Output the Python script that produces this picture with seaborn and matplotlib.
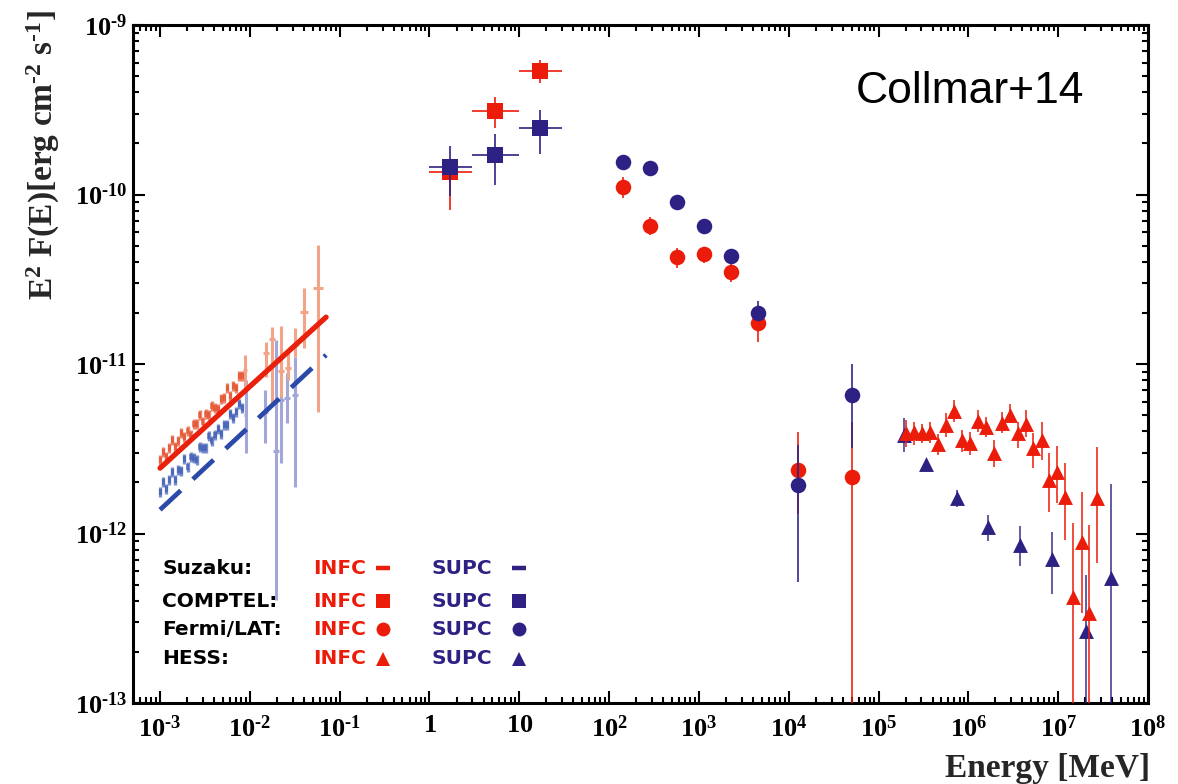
import numpy as np
import pandas as pd
import matplotlib
matplotlib.use("Agg")
import matplotlib.pyplot as plt
from matplotlib.ticker import FixedLocator, FixedFormatter, LogLocator, NullFormatter
import seaborn as sns

# ---------------- colours ----------------
RED = "#EC1C0A"
NAVY = "#2D2183"
RED_LIGHT = "#F2A488"
BLUE_LIGHT = "#A3A6D9"
RED_XIS = "#E2461F"
BLUE_XIS = "#3352B0"

# ---------------- Suzaku (XIS spectra, HXD points, power-law models) ----------------
xis_E = [1.000e-3, 1.081e-3, 1.169e-3, 1.265e-3, 1.368e-3, 1.479e-3, 1.600e-3,
         1.730e-3, 1.871e-3, 2.023e-3, 2.188e-3, 2.366e-3, 2.559e-3, 2.767e-3,
         2.992e-3, 3.236e-3, 3.499e-3, 3.784e-3, 4.093e-3, 4.426e-3, 4.786e-3,
         5.176e-3, 5.598e-3, 6.053e-3, 6.546e-3, 7.079e-3, 7.656e-3, 8.279e-3]
xis_infc = [2.73e-12, 3.03e-12, 2.81e-12, 3.20e-12, 3.56e-12, 3.22e-12, 3.50e-12,
            3.90e-12, 3.69e-12, 4.01e-12, 3.80e-12, 4.43e-12, 4.40e-12, 5.00e-12,
            4.52e-12, 5.04e-12, 4.99e-12, 5.69e-12, 5.51e-12, 5.46e-12, 6.22e-12,
            6.31e-12, 7.19e-12, 6.50e-12, 7.40e-12, 7.18e-12, 8.55e-12, 8.47e-12]
xis_supc = [1.76e-12, 2.00e-12, 1.82e-12, 2.07e-12, 2.30e-12, 2.08e-12, 2.37e-12,
            2.35e-12, 2.74e-12, 2.47e-12, 2.82e-12, 2.79e-12, 2.71e-12, 3.23e-12,
            3.20e-12, 3.18e-12, 3.78e-12, 3.51e-12, 3.81e-12, 4.14e-12, 3.84e-12,
            4.37e-12, 4.34e-12, 5.05e-12, 4.78e-12, 5.20e-12, 5.78e-12, 5.47e-12]

hxd_infc_E = [0.0088, 0.0151, 0.0177, 0.0222, 0.0266, 0.0318, 0.0402, 0.0574]
hxd_infc_Elo = [0.0084, 0.0141, 0.0165, 0.0205, 0.0245, 0.0293, 0.0363, 0.0500]
hxd_infc_Ehi = [0.0092, 0.0162, 0.0190, 0.0240, 0.0289, 0.0346, 0.0445, 0.0660]
hxd_infc = [9.22e-12, 1.16e-11, 1.40e-11, 9.10e-12, 9.46e-12, 1.30e-11, 2.03e-11, 2.81e-11]
hxd_infc_lo = [7.31e-12, 8.38e-12, 5.89e-12, 6.38e-12, 8.05e-12, 1.10e-11, 1.24e-11, 5.21e-12]
hxd_infc_hi = [1.13e-11, 1.35e-11, 1.65e-11, 1.67e-11, 1.21e-11, 1.63e-11, 2.81e-11, 5.04e-11]

hxd_supc_E = [0.0090, 0.0148, 0.0196, 0.0222, 0.0259, 0.0318]
hxd_supc_Elo = [0.0086, 0.0138, 0.0182, 0.0205, 0.0239, 0.0293]
hxd_supc_Ehi = [0.0094, 0.0158, 0.0211, 0.0240, 0.0281, 0.0346]
hxd_supc = [5.00e-12, 5.21e-12, 3.07e-12, 6.14e-12, 6.30e-12, 6.56e-12]
hxd_supc_lo = [2.99e-12, 3.42e-12, 4.06e-13, 2.61e-12, 4.49e-12, 1.88e-12]
hxd_supc_hi = [8.05e-12, 7.03e-12, 1.39e-11, 1.33e-11, 8.85e-12, 1.10e-11]

model_E = [1.0e-3, 7.06e-2]
model_infc = [2.43e-12, 1.89e-11]
model_supc = [1.38e-12, 1.13e-11]

# ---------------- COMPTEL ----------------
comptel_E = [1.7, 5.3, 16.8]
comptel_Elo = [1.0, 3.0, 10.0]
comptel_Ehi = [3.0, 10.0, 30.0]
comptel_infc = [1.36e-10, 3.11e-10, 5.36e-10]
comptel_infc_lo = [8.1e-11, 2.47e-10, 4.55e-10]
comptel_infc_hi = [1.60e-10, 3.76e-10, 6.22e-10]
comptel_supc = [1.45e-10, 1.71e-10, 2.47e-10]
comptel_supc_lo = [9.8e-11, 1.14e-10, 1.73e-10]
comptel_supc_hi = [1.93e-10, 2.28e-10, 3.16e-10]

# ---------------- Fermi/LAT ----------------
fermi_E = [143, 286, 571, 1143, 2280, 4560, 12700, 50800]
fermi_infc = [1.11e-10, 6.5e-11, 4.27e-11, 4.45e-11, 3.49e-11, 1.75e-11, 2.37e-12, 2.15e-12]
fermi_infc_lo = [9.53e-11, 5.77e-11, 3.68e-11, 3.95e-11, 3.05e-11, 1.35e-11, 1.3e-12, 1e-14]
fermi_infc_hi = [1.27e-10, 7.36e-11, 4.83e-11, 4.87e-11, 3.89e-11, 2.0e-11, 3.97e-12, 4.55e-12]
fermi_supc = [1.55e-10, 1.43e-10, 9.0e-11, 6.5e-11, 4.33e-11, 2.0e-11, 1.93e-12, 6.56e-12]
fermi_supc_lo = [1.45e-10, 1.34e-10, 8.5e-11, 6.1e-11, 4.0e-11, 1.8e-11, 5.18e-13, 3.19e-12]
fermi_supc_hi = [1.65e-10, 1.52e-10, 9.5e-11, 6.9e-11, 4.65e-11, 2.35e-11, 3.33e-12, 1.0e-11]

# ---------------- HESS ----------------
hess_infc_E = [2.03e5, 2.49e5, 3.06e5, 3.76e5, 4.61e5, 5.66e5, 6.95e5, 8.53e5, 1.05e6,
               1.29e6, 1.58e6, 1.94e6, 2.38e6, 2.92e6, 3.59e6, 4.41e6, 5.27e6, 6.64e6,
               7.94e6, 9.75e6, 1.20e7, 1.47e7, 1.85e7, 2.21e7, 2.72e7]
hess_infc = [3.92e-12, 3.95e-12, 3.92e-12, 3.97e-12, 3.37e-12, 4.37e-12, 5.28e-12, 3.56e-12,
             3.42e-12, 4.61e-12, 4.25e-12, 2.99e-12, 4.49e-12, 5.00e-12, 3.92e-12, 4.42e-12,
             3.19e-12, 3.56e-12, 2.07e-12, 2.31e-12, 1.64e-12, 4.22e-13, 8.91e-13, 3.40e-13,
             1.62e-12]
hess_infc_lo = [3.24e-12, 3.33e-12, 3.42e-12, 3.42e-12, 2.90e-12, 3.71e-12, 4.55e-12, 3.03e-12,
                2.90e-12, 3.97e-12, 3.71e-12, 2.47e-12, 3.92e-12, 4.49e-12, 3.19e-12, 3.71e-12,
                2.43e-12, 2.71e-12, 1.34e-12, 1.51e-12, 9.16e-13, 1e-14, 3.40e-13, 1e-14,
                6.70e-13]
hess_infc_hi = [4.67e-12, 4.55e-12, 4.43e-12, 4.55e-12, 3.86e-12, 5.14e-12, 6.14e-12, 4.08e-12,
                3.97e-12, 5.35e-12, 4.87e-12, 3.56e-12, 5.21e-12, 5.81e-12, 4.55e-12, 5.35e-12,
                3.92e-12, 4.55e-12, 2.99e-12, 3.28e-12, 2.61e-12, 1.15e-12, 1.76e-12, 1.12e-12,
                3.24e-12]
hess_supc_E = [1.93e5, 3.39e5, 7.50e5, 1.66e6, 3.78e6, 8.57e6, 2.05e7, 3.89e7]
hess_supc = [3.81e-12, 2.57e-12, 1.62e-12, 1.09e-12, 8.55e-13, 7.07e-13, 2.66e-13, 5.46e-13]
hess_supc_lo = [3.03e-12, 2.57e-12, 1.43e-12, 9.04e-13, 6.43e-13, 4.40e-13, 1e-14, 1e-14]
hess_supc_hi = [4.80e-12, 2.57e-12, 1.81e-12, 1.29e-12, 1.11e-12, 1.02e-12, 5.69e-13, 1.96e-12]

# ---------------- axes text ----------------
x_tick_values = [1e-3, 1e-2, 1e-1, 1, 10, 1e2, 1e3, 1e4, 1e5, 1e6, 1e7, 1e8]
x_tick_labels = [r"$10^{‐3}$", r"$10^{‐2}$", r"$10^{‐1}$", r"$1$", r"$10$", r"$10^{2}$",
                 r"$10^{3}$", r"$10^{4}$", r"$10^{5}$", r"$10^{6}$", r"$10^{7}$", r"$10^{8}$"]
y_tick_values = [1e-13, 1e-12, 1e-11, 1e-10, 1e-9]
y_tick_labels = [r"$10^{‐13}$", r"$10^{‐12}$", r"$10^{‐11}$", r"$10^{‐10}$", r"$10^{‐9}$"]
legend_rows = ["Suzaku:", "COMPTEL:", "Fermi/LAT:", "HESS:"]
legend_markers = ["_", "s", "o", "^"]
phase_labels = ["INFC", "SUPC"]

# ---------------- style ----------------
sns.set_style("ticks")
plt.rcParams.update({
    "font.family": ["Liberation Serif", "DejaVu Sans"],
    "mathtext.fontset": "custom",
    "mathtext.rm": "Liberation Serif:bold",
    "mathtext.it": "Liberation Serif:bold",
    "mathtext.bf": "Liberation Serif:bold",
    "mathtext.sf": "Liberation Serif:bold",
    "axes.linewidth": 2.2,
    "axes.edgecolor": "black",
})

fig = plt.figure(figsize=(11.78, 7.84), dpi=100)
ax = fig.add_axes([133 / 1178, 81 / 784, 1015 / 1178, 678 / 784])
ax.set_xscale("log")
ax.set_yscale("log")


def spread(vals, lo, hi):
    v = np.asarray(vals)
    return [v - np.asarray(lo), np.asarray(hi) - v]


def channel_widths(energies):
    """Half-widths of each spectral channel, reaching to the neighbouring channels."""
    e = np.asarray(energies)
    mids = np.sqrt(e[1:] * e[:-1])
    lo = np.concatenate([[e[0] * e[0] / mids[0]], mids])
    hi = np.concatenate([mids, [e[-1] * e[-1] / mids[-1]]])
    return [e - lo, hi - e]


# Suzaku HXD points (pale bars)
ax.errorbar(hxd_supc_E, hxd_supc, yerr=spread(hxd_supc, hxd_supc_lo, hxd_supc_hi),
            xerr=spread(hxd_supc_E, hxd_supc_Elo, hxd_supc_Ehi), fmt="none",
            ecolor=BLUE_LIGHT, elinewidth=2.2, zorder=1)
ax.errorbar(hxd_infc_E, hxd_infc, yerr=spread(hxd_infc, hxd_infc_lo, hxd_infc_hi),
            xerr=spread(hxd_infc_E, hxd_infc_Elo, hxd_infc_Ehi), fmt="none",
            ecolor=RED_LIGHT, elinewidth=2.2, zorder=1)

# Suzaku XIS spectra: each channel as a short step plus a small tick mark
for vals, col in ((xis_supc, BLUE_XIS), (xis_infc, RED_XIS)):
    ax.errorbar(xis_E, vals, xerr=channel_widths(xis_E), fmt="none", ecolor=col,
                elinewidth=4.5, alpha=0.6, zorder=2)
    sns.scatterplot(x=xis_E, y=vals, marker="|", s=60, linewidth=2.4, color=col,
                    alpha=0.65, ax=ax, zorder=2, legend=False)

# Suzaku power-law models
sns.lineplot(x=model_E, y=model_supc, color="#2B49A8", linewidth=3.4,
             linestyle=(0, (6, 3.5)), ax=ax, zorder=3, legend=False)
sns.lineplot(x=model_E, y=model_infc, color="#E8200C", linewidth=3.8, ax=ax,
             zorder=3, legend=False)

# COMPTEL
ax.errorbar(comptel_E, comptel_infc, yerr=spread(comptel_infc, comptel_infc_lo, comptel_infc_hi),
            xerr=spread(comptel_E, comptel_Elo, comptel_Ehi), fmt="none", ecolor=RED,
            elinewidth=1.4, alpha=0.85, zorder=4)
sns.scatterplot(x=comptel_E, y=comptel_infc, marker="s", s=117, color=RED, linewidth=0,
                ax=ax, zorder=5, legend=False)
ax.errorbar(comptel_E, comptel_supc, yerr=spread(comptel_supc, comptel_supc_lo, comptel_supc_hi),
            xerr=spread(comptel_E, comptel_Elo, comptel_Ehi), fmt="none", ecolor=NAVY,
            elinewidth=1.4, alpha=0.85, zorder=6)
sns.scatterplot(x=comptel_E, y=comptel_supc, marker="s", s=117, color=NAVY, linewidth=0,
                ax=ax, zorder=7, legend=False)

# Fermi/LAT
ax.errorbar(fermi_E, fermi_infc, yerr=spread(fermi_infc, fermi_infc_lo, fermi_infc_hi),
            fmt="none", ecolor=RED, elinewidth=1.3, alpha=0.9, zorder=4)
sns.scatterplot(x=fermi_E, y=fermi_infc, marker="o", s=125, color=RED, linewidth=0,
                ax=ax, zorder=5, legend=False)
ax.errorbar(fermi_E, fermi_supc, yerr=spread(fermi_supc, fermi_supc_lo, fermi_supc_hi),
            fmt="none", ecolor=NAVY, elinewidth=1.3, alpha=0.9, zorder=6)
sns.scatterplot(x=fermi_E, y=fermi_supc, marker="o", s=125, color=NAVY, linewidth=0,
                ax=ax, zorder=7, legend=False)

# HESS
ax.errorbar(hess_supc_E, hess_supc, yerr=spread(hess_supc, hess_supc_lo, hess_supc_hi),
            fmt="none", ecolor=NAVY, elinewidth=1.3, alpha=0.8, zorder=4)
sns.scatterplot(x=hess_supc_E, y=hess_supc, marker="^", s=115, color=NAVY, linewidth=0,
                ax=ax, zorder=5, legend=False)
ax.errorbar(hess_infc_E, hess_infc, yerr=spread(hess_infc, hess_infc_lo, hess_infc_hi),
            fmt="none", ecolor=RED, elinewidth=1.3, alpha=0.85, zorder=6)
sns.scatterplot(x=hess_infc_E, y=hess_infc, marker="^", s=115, color=RED, linewidth=0,
                ax=ax, zorder=7, legend=False)

# ---------------- axes ----------------
ax.set_xlim(5.0e-4, 1e8)
ax.set_ylim(1e-13, 1e-9)
ax.xaxis.set_major_locator(FixedLocator(x_tick_values))
ax.xaxis.set_major_formatter(FixedFormatter(x_tick_labels))
ax.yaxis.set_major_locator(FixedLocator(y_tick_values))
ax.yaxis.set_major_formatter(FixedFormatter(y_tick_labels))
for axis in (ax.xaxis, ax.yaxis):
    axis.set_minor_locator(LogLocator(base=10, subs=np.arange(2, 10), numticks=60))
    axis.set_minor_formatter(NullFormatter())
ax.tick_params(which="both", direction="in", top=True, right=True, width=1.5,
               colors="black", labelsize=19)
ax.tick_params(which="major", length=8.5)
ax.tick_params(which="minor", length=4.3)
ax.tick_params(axis="x", pad=9)
ax.tick_params(axis="y", pad=4)
for sp in ax.spines.values():
    sp.set_linewidth(2.2)
    sp.set_color("black")

fig.text(1150 / 1178, 1 - 777 / 784, "Energy [MeV]", ha="right", va="baseline",
         fontsize=24, fontweight="bold", family="Liberation Serif")
fig.text(43 / 1178, 1 - 10 / 784, r"E$^{2}$ F(E)[erg cm$^{‐2}$ s$^{‐1}$]", rotation=90,
         ha="center", va="top", fontsize=24, fontweight="bold", family="Liberation Serif")

ax.text(0.712, 0.885, "Collmar+14", transform=ax.transAxes, ha="left", va="baseline",
        fontsize=32, family="Liberation Sans", color="black")

# ---------------- legend block ----------------
row_y = [0.199, 0.150, 0.109, 0.065]
for label, mk, yy in zip(legend_rows, legend_markers, row_y):
    ax.text(0.0286, yy, label, transform=ax.transAxes, ha="left", va="center",
            fontsize=14.5, fontweight="bold", family="DejaVu Sans", color="black")
    ax.text(0.177, yy, phase_labels[0], transform=ax.transAxes, ha="left", va="center",
            fontsize=14.5, fontweight="bold", family="DejaVu Sans", color=RED)
    ax.text(0.294, yy, phase_labels[1], transform=ax.transAxes, ha="left", va="center",
            fontsize=14.5, fontweight="bold", family="DejaVu Sans", color=NAVY)
    for xx, col in ((0.246, RED), (0.380, NAVY)):
        if mk == "_":
            ax.plot([xx], [yy], marker="_", markersize=10, markeredgewidth=3.2, color=col,
                    transform=ax.transAxes, linestyle="none")
        else:
            ax.plot([xx], [yy], marker=mk, markersize=10 if mk != "^" else 10.5,
                    color=col, markeredgewidth=0, transform=ax.transAxes, linestyle="none")

fig.savefig("out.png", dpi=100)
